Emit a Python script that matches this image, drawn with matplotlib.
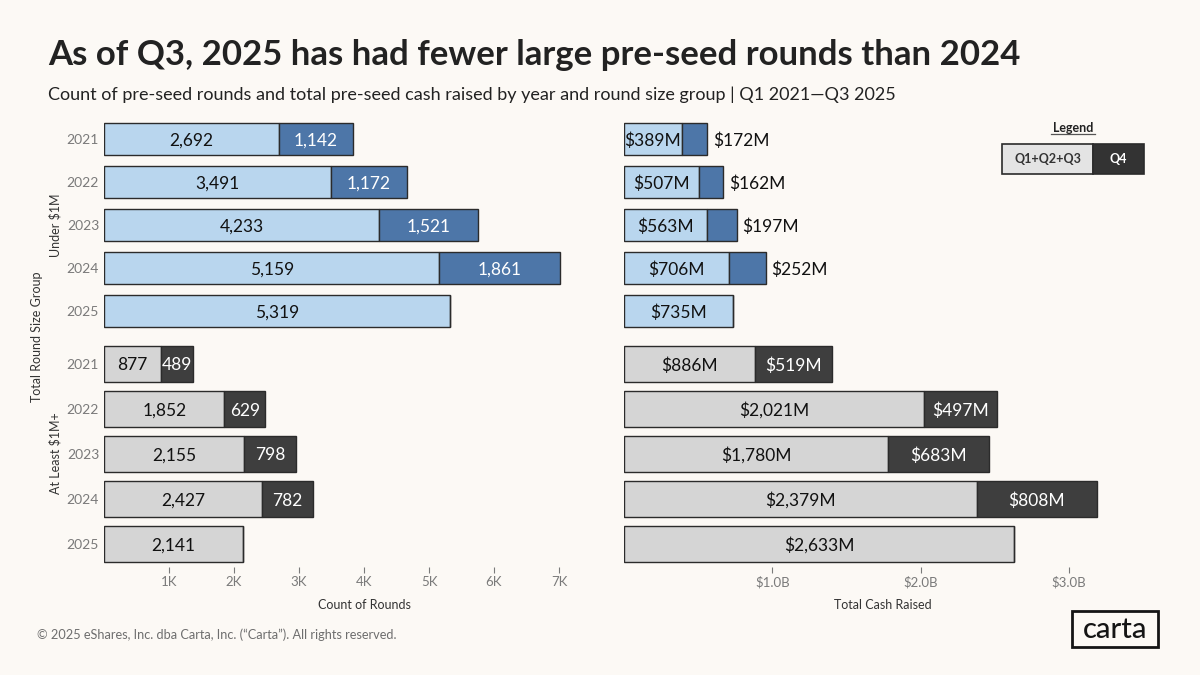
import matplotlib
matplotlib.use("Agg")
import matplotlib.pyplot as plt
from matplotlib.patches import Rectangle
from matplotlib.ticker import FuncFormatter

plt.rcParams["font.family"] = ["Lato", "DejaVu Sans"]

W, H = 1200, 675
BG = "#FCF9F5"
EDGE = "#2B2B2B"
GRAY = "#7A7A7A"

years = ["2021", "2022", "2023", "2024", "2025"]

# counts of rounds
under_count_q13 = [2692, 3491, 4233, 5159, 5319]
under_count_q4 = [1142, 1172, 1521, 1861, 0]
over_count_q13 = [877, 1852, 2155, 2427, 2141]
over_count_q4 = [489, 629, 798, 782, 0]

# cash raised, $M
under_cash_q13 = [389, 507, 563, 706, 735]
under_cash_q4 = [172, 162, 197, 252, 0]
over_cash_q13 = [886, 2021, 1780, 2379, 2633]
over_cash_q4 = [519, 497, 683, 808, 0]

count_ticks = [1000, 2000, 3000, 4000, 5000, 6000, 7000]
cash_ticks = [1000, 2000, 3000]


def px_axes(fig, left, top, right, bottom):
    return fig.add_axes([left / W, 1 - bottom / H, (right - left) / W, (bottom - top) / H])


def fx(x):
    return x / W


def fy(y):
    return 1 - y / H


def draw_panel(ax, q13, q4, light, dark, xmax, fmt, height, min_inside):
    ypos = list(range(len(q13)))
    ax.barh(ypos, q13, height=height, color=light, edgecolor=EDGE, linewidth=1.0)
    ax.barh(ypos, q4, left=q13, height=height, color=dark, edgecolor=EDGE, linewidth=1.0)
    for i in ypos:
        ax.text(q13[i] / 2, i, fmt(q13[i]), ha="center", va="center_baseline", fontsize=12.5, color="#111111")
        if q4[i] == 0:
            continue
        if q4[i] >= min_inside:
            ax.text(q13[i] + q4[i] / 2, i, fmt(q4[i]), ha="center", va="center_baseline", fontsize=12.5, color="white")
        else:
            ax.annotate(fmt(q4[i]), (q13[i] + q4[i], i), xytext=(4, 0), textcoords="offset points",
                        ha="left", va="center_baseline", fontsize=12.5, color="#111111")
    ax.set_xlim(0, xmax)
    ax.set_ylim(len(q13) - 0.5, -0.5)
    ax.patch.set_alpha(0)
    for s in ax.spines.values():
        s.set_visible(False)


fig = plt.figure(figsize=(12, 6.75), dpi=100, facecolor=BG)

count_fmt = lambda v: f"{v:,}"
cash_fmt = lambda v: f"${v:,}M"

# left: 65 px per 1K, right: 148.3 px per $1B
ax1 = px_axes(fig, 104, 117.5, 584, 332.5)
draw_panel(ax1, under_count_q13, under_count_q4, "#B9D6EE", "#4D76A8", 480 / 65 * 1000, count_fmt, 0.75, 300)
ax2 = px_axes(fig, 104, 341.5, 584, 566.5)
draw_panel(ax2, over_count_q13, over_count_q4, "#D5D5D5", "#3E3E3E", 480 / 65 * 1000, count_fmt, 0.78, 300)
ax3 = px_axes(fig, 624, 117.5, 1104, 332.5)
draw_panel(ax3, under_cash_q13, under_cash_q4, "#B9D6EE", "#4D76A8", 480 / 148.3 * 1000, cash_fmt, 0.75, 300)
ax4 = px_axes(fig, 624, 341.5, 1104, 566.5)
draw_panel(ax4, over_cash_q13, over_cash_q4, "#D5D5D5", "#3E3E3E", 480 / 148.3 * 1000, cash_fmt, 0.8, 300)

# year labels only on the left panels
for ax in (ax1, ax2):
    ax.set_yticks(range(len(years)))
    ax.set_yticklabels(years, fontsize=10, color=GRAY)
    ax.tick_params(axis="y", length=0, pad=3.5)
for ax in (ax3, ax4):
    ax.set_yticks([])

for ax in (ax1, ax3):
    ax.set_xticks([])

ax2.set_xticks(count_ticks)
ax2.xaxis.set_major_formatter(FuncFormatter(lambda v, p: f"{v / 1000:.0f}K"))
ax4.set_xticks(cash_ticks)
ax4.xaxis.set_major_formatter(FuncFormatter(lambda v, p: f"${v / 1000:.1f}B"))
for ax in (ax2, ax4):
    ax.tick_params(axis="x", length=4, width=0.8, color=GRAY, labelcolor=GRAY, labelsize=9.5, pad=3)

fig.text(fx(48), fy(55), "As of Q3, 2025 has had fewer large pre-seed rounds than 2024",
         fontsize=25, fontweight="bold", color="#222222", va="center", ha="left")
fig.text(fx(48), fy(95), "Count of pre-seed rounds and total pre-seed cash raised by year and round size group | Q1 2021\u2014Q3 2025",
         fontsize=13, color="#222222", va="center", ha="left")

fig.text(fx(364), fy(605), "Count of Rounds", fontsize=9, color="#333333", ha="center", va="center")
fig.text(fx(883), fy(605), "Total Cash Raised", fontsize=9, color="#333333", ha="center", va="center")
fig.text(fx(37), fy(337), "Total Round Size Group", fontsize=9, color="#333333", rotation=90, ha="center", va="center")
fig.text(fx(55), fy(225), "Under $1M", fontsize=9, color="#333333", rotation=90, ha="center", va="center")
fig.text(fx(55), fy(453), "At Least $1M+", fontsize=9, color="#333333", rotation=90, ha="center", va="center")

fig.text(fx(37), fy(635), "\u00a9 2025 eShares, Inc. dba Carta, Inc. (\u201cCarta\u201d). All rights reserved.",
         fontsize=9.2, color="#6E6E6E", ha="left", va="center")

# legend
fig.text(fx(1073), fy(128), "Legend", fontsize=9, fontweight="bold", color="#222222", ha="center", va="center")
fig.add_artist(plt.Line2D([fx(1051), fx(1095)], [fy(134), fy(134)], color="#555555", lw=0.9))
fig.add_artist(Rectangle((fx(1002), fy(174)), 91 / W, 30 / H, transform=fig.transFigure,
                         facecolor="#E4E4E4", edgecolor=EDGE, lw=1.2))
fig.add_artist(Rectangle((fx(1093), fy(174)), 51 / W, 30 / H, transform=fig.transFigure,
                         facecolor="#333333", edgecolor=EDGE, lw=1.2))
fig.text(fx(1047.5), fy(159), "Q1+Q2+Q3", fontsize=9, fontweight="bold", color="#333333", ha="center", va="center")
fig.text(fx(1118.5), fy(159), "Q4", fontsize=9, fontweight="bold", color="white", ha="center", va="center")

# logo
fig.add_artist(Rectangle((fx(1072), fy(647)), 86 / W, 36 / H, transform=fig.transFigure,
                         facecolor="none", edgecolor="#151515", lw=2))
fig.text(fx(1115), fy(630), "carta", fontsize=21, fontweight="medium", color="#151515", ha="center", va="center")

fig.savefig("out.png", dpi=100, facecolor=BG)
